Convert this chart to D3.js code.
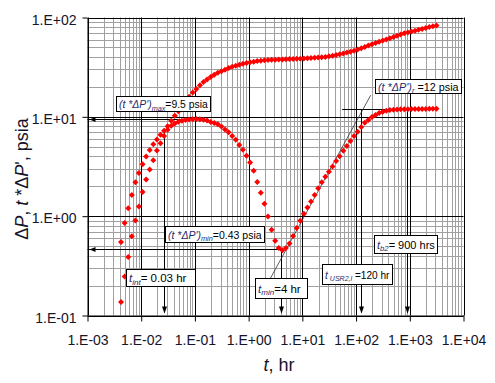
<!DOCTYPE html>
<html><head><meta charset="utf-8">
<script src="https://cdn.jsdelivr.net/npm/d3@7"></script>
<style>
body{margin:0;background:#fff}
svg{display:block}
text{font-family:"Liberation Sans",Arial,sans-serif}
</style>
</head><body>
<svg id="c" width="495" height="383"></svg>
<script>
// ---- data ----
const tHours = [0.00421,0.00491,0.00573,0.00668,0.00779,0.00908,0.01059,0.01235,0.0144,0.01679,
0.01958,0.02283,0.02662,0.03105,0.03621,0.04222,0.04923,0.05741,0.06695,0.07806,
0.09104,0.1062,0.1238,0.1443,0.1683,0.1963,0.2289,0.2669,0.3112,0.3629,
0.4232,0.4934,0.5754,0.671,0.7824,0.9124,1.064,1.24,1.447,1.687,
1.967,2.294,2.675,3.119,3.637,4.242,4.946,5.768,6.726,7.843,
9.147,10.67,12.43,14.5,16.91,19.72,22.99,26.81,31.26,36.46,
42.51,49.58,57.81,67.42,78.62,91.67,106.9,124.7,145.4,169.5,
197.7,230.5,268.8,313.5,365.5,426.2,497,579.4,675.7,788,
918.8,1071,1249,1457,1699,1981,2310,2694,3141];

const deltaP = [0.548,0.854,1.198,1.637,2.197,2.719,3.334,3.984,4.63,5.30,
5.90,6.61,7.26,8.05,9.13,10.25,11.37,12.80,14.17,15.91,
17.58,19.10,20.76,22.36,23.80,25.22,26.48,27.73,28.84,29.86,
30.99,31.86,32.76,33.45,34.23,34.87,35.36,35.94,36.44,36.78,
37.12,37.29,37.47,37.55,37.73,37.82,37.99,38.17,38.25,38.34,
38.52,38.70,38.88,39.06,39.25,39.52,39.79,40.07,40.63,41.19,
41.96,42.55,43.45,44.36,45.19,46.25,47.55,49.00,50.50,52.17,
53.76,55.53,56.97,58.57,60.22,61.92,63.81,65.61,67.62,69.36,
70.67,72.31,73.68,75.40,76.82,78.61,80.09,81.58,83.28];

const derivative = [0.137,0.247,0.387,0.626,0.903,1.249,1.751,2.344,2.949,3.657,
4.577,5.42,6.40,7.41,8.15,8.59,8.90,9.12,9.27,9.38,
9.45,9.49,9.45,9.36,9.17,8.88,8.65,8.40,8.00,7.46,
6.98,6.43,5.87,5.22,4.65,4.05,3.47,2.87,2.21,1.72,
1.336,0.99,0.728,0.567,0.477,0.453,0.479,0.531,0.631,0.761,
0.901,1.055,1.223,1.405,1.630,1.912,2.20,2.50,2.80,3.16,
3.60,4.02,4.55,5.09,5.72,6.40,7.07,7.89,8.70,9.30,
9.94,10.46,10.91,11.24,11.50,11.69,11.80,11.88,11.91,11.93,
11.95,11.96,11.98,11.99,12.0,12.02,12.03,12.04,12.05];

const xTickValues = [1e-3,1e-2,1e-1,1,10,100,1000,10000];
const xTickLabels = ["1.E-03","1.E-02","1.E-01","1.E+00","1.E+01","1.E+02","1.E+03","1.E+04"];
const yTickValues = [0.1,1,10,100];
const yTickLabels = ["1.E-01","1.E+00","1.E+01","1.E+02"];

// annotation values
const derivMax = 9.5, tAtMax = 0.115;
const derivMinLine = 0.47, tMin = 4;
const derivRadial = 12, tRadialStart = 55, tRadialEnd = 3141;
const tInt = 0.027, tIntTop = 7.6;
const tUsr = 125, tB2 = 900, lateTop = 12;
const unitSlope = [[2.5,0.233],[187,16.5]];

// ---- drawing ----
const svg = d3.select("#c");
const x = d3.scaleLog().domain([1e-3,1e4]).range([87.5,463.5]);
const y = d3.scaleLog().domain([0.1,100]).range([315.5,17.5]);
const [x0,x1] = x.range(), [y0,y1] = y.range();

// grid
const minorX = [], minorY = [];
for (let e=-3;e<4;e++) for (let m=2;m<=9;m++) minorX.push(m*Math.pow(10,e));
for (let e=-1;e<2;e++) for (let m=2;m<=9;m++) minorY.push(m*Math.pow(10,e));
const g = svg.append("g");
g.selectAll(".mx").data(minorX).join("line")
  .attr("x1",d=>Math.round(x(d))+0.5).attr("x2",d=>Math.round(x(d))+0.5)
  .attr("y1",y1).attr("y2",y0).attr("stroke","#a0a0a0").attr("stroke-width",1);
g.selectAll(".my").data(minorY).join("line")
  .attr("y1",d=>Math.round(y(d))+0.5).attr("y2",d=>Math.round(y(d))+0.5)
  .attr("x1",x0).attr("x2",x1).attr("stroke","#a0a0a0").attr("stroke-width",1);
g.selectAll(".Mx").data(xTickValues).join("line")
  .attr("x1",d=>Math.round(x(d))+0.5).attr("x2",d=>Math.round(x(d))+0.5)
  .attr("y1",y1).attr("y2",y0).attr("stroke","#000").attr("stroke-width",1);
g.selectAll(".My").data(yTickValues).join("line")
  .attr("y1",d=>Math.round(y(d))+0.5).attr("y2",d=>Math.round(y(d))+0.5)
  .attr("x1",x0).attr("x2",x1).attr("stroke","#000").attr("stroke-width",1);

// axes
const xAxis = d3.axisBottom(x).tickValues(xTickValues)
  .tickFormat((d,i)=>xTickLabels[i]).tickSize(6).tickSizeOuter(0).tickPadding(14);
const gx = svg.append("g").attr("transform",`translate(0,${y0})`).call(xAxis);
const yAxis = d3.axisLeft(y).tickValues(yTickValues)
  .tickFormat((d,i)=>yTickLabels[i]).tickSize(5).tickSizeOuter(0).tickPadding(6);
const gy = svg.append("g").attr("transform",`translate(${x0},0)`).call(yAxis);
[gx,gy].forEach(a=>{
  a.select(".domain").attr("stroke","#000");
  a.selectAll(".tick line").attr("stroke","#000");
  a.selectAll(".tick text").attr("font-size",14).attr("fill","#14142a")
   .attr("font-family","'Liberation Sans',Arial,sans-serif");
});
gy.selectAll(".tick text").attr("dy","0.47em");

// axis titles
svg.append("text").attr("x",279).attr("y",371).attr("text-anchor","middle")
  .attr("font-size",18).attr("fill","#14142a")
  .call(t=>{t.append("tspan").attr("font-style","italic").text("t");t.append("tspan").text(", hr");});
const yt = svg.append("text").attr("transform","translate(27.5,179) rotate(-90)")
  .attr("text-anchor","middle").attr("font-size",18).attr("fill","#14142a");
yt.append("tspan").text("Δ");
yt.append("tspan").attr("font-style","italic").text("P");
yt.append("tspan").text(", ");
yt.append("tspan").attr("font-style","italic").text("t");
yt.append("tspan").text(" *Δ");
yt.append("tspan").attr("font-style","italic").text("P");
yt.append("tspan").text("', psia");

// annotation lines
const ann = svg.append("g").attr("stroke","#000").attr("stroke-width",1).attr("fill","none");
function hLine(v, ta, tb){ ann.append("line").attr("x1",ta).attr("x2",tb).attr("y1",Math.round(y(v))+0.5).attr("y2",Math.round(y(v))+0.5); }
function vLine(t, ya, yb){ ann.append("line").attr("x1",Math.round(x(t))+0.5).attr("x2",Math.round(x(t))+0.5).attr("y1",ya).attr("y2",yb); }
function headLeft(v){ const yy=Math.round(y(v))+0.5, xx=x0+2;
  svg.append("path").attr("d",`M${xx},${yy} L${xx+6},${yy-2.5} L${xx+6},${yy+2.5} Z`).attr("fill","#000"); }
function headDown(t){ const xx=Math.round(x(t))+0.5, yy=y0-2;
  svg.append("path").attr("d",`M${xx},${yy} L${xx-2.5},${yy-7} L${xx+2.5},${yy-7} Z`).attr("fill","#000"); }

hLine(derivMax, x0, x(tAtMax)); headLeft(derivMax);
hLine(derivMinLine, x0, x(tMin)); headLeft(derivMinLine);
hLine(derivRadial, x(tRadialStart), x(tRadialEnd));
vLine(tInt, y(tIntTop), y0-3); headDown(tInt);
vLine(tMin, y(derivMinLine), y0-3); headDown(tMin);
vLine(tUsr, y(lateTop), y0-3); headDown(tUsr);
vLine(tB2, y(lateTop), y0-3); headDown(tB2);
svg.append("line").attr("x1",x(unitSlope[0][0])).attr("y1",y(unitSlope[0][1]))
  .attr("x2",x(unitSlope[1][0])).attr("y2",y(unitSlope[1][1]))
  .attr("stroke","#333").attr("stroke-width",0.8);

// markers (diamonds)
const diamond = "M0,-3 L3,0 L0,3 L-3,0 Z";
const pts = svg.append("g").attr("fill","#ff0000");
pts.selectAll(".dp").data(tHours).join("path")
  .attr("d",diamond).attr("transform",(d,i)=>`translate(${x(d)},${y(deltaP[i])})`);
pts.selectAll(".dv").data(tHours).join("path")
  .attr("d",diamond).attr("transform",(d,i)=>`translate(${x(d)},${y(derivative[i])})`);

// label boxes
const NAVY = "#1f2a6e";
function box(bx, by, bw, bh, parts){
  const gg = svg.append("g");
  gg.append("rect").attr("x",bx+0.5).attr("y",by+0.5).attr("width",bw).attr("height",bh)
    .attr("fill","#fff").attr("stroke","#000").attr("stroke-width",1);
  const t = gg.append("text").attr("x",bx+3).attr("y",by+bh/2+4.5).attr("fill","#000");
  function build(fs){
    t.selectAll("*").remove();
    t.attr("font-size",fs);
    const sub = fs*0.7, sh = fs*0.26;
    let shifted=false;
    parts.forEach(([s,k])=>{
      const sp=t.append("tspan").text(s);
      if(k==="i"){ sp.attr("font-style","italic").attr("fill",NAVY); if(shifted){sp.attr("dy",-sh);shifted=false;} }
      else if(k==="s"){ sp.attr("font-style","italic").attr("font-size",sub).attr("fill",NAVY); if(!shifted){sp.attr("dy",sh);shifted=true;} }
      else { if(shifted){sp.attr("dy",-sh);shifted=false;} }
    });
  }
  let fs = 11.5;
  build(fs);
  const avail = bw - 5;
  const w = t.node().getComputedTextLength();
  if (w > avail) { fs = Math.floor(fs*avail/w*10)/10; build(fs); }
}
box(116,96,94,15,[["(t *ΔP')","i"],["max","s"],["=9.5 psia","n"]]);
box(165,226,99,16,[["(t *ΔP')","i"],["min","s"],["=0.43 psia","n"]]);
box(126,269,69,17,[["t","i"],["int","s"],["= 0.03 hr","n"]]);
box(255,278,52,20,[["t","i"],["min","s"],["=4 hr","n"]]);
box(375,79,86,14,[["(t *ΔP')","i"],["r","s"],[" =12 psia","n"]]);
box(322,264,70,20,[["t","i"],[" USR2,l","s"],[" =120 hr","n"]]);
box(374,235,63,18,[["t","i"],["b2","s"],["= 900 hrs","n"]]);
</script>
</body></html>
